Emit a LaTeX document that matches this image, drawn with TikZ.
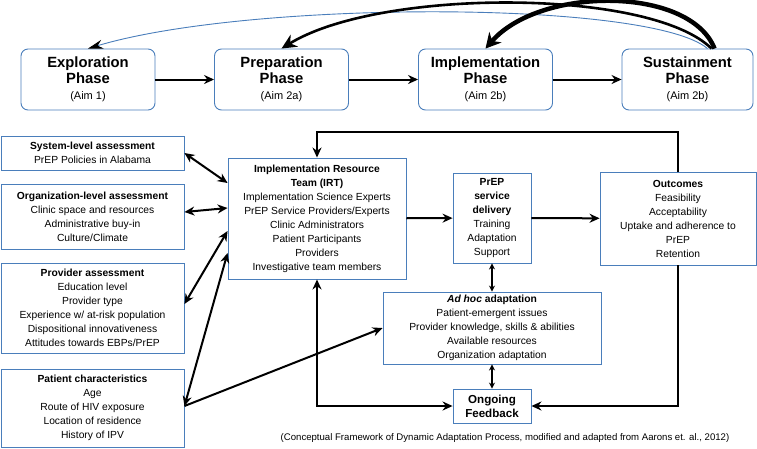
\documentclass[tikz,border=0pt]{standalone}
\usepackage{fontspec}
\setmainfont{Liberation Sans}
\usepackage{xcolor}
\definecolor{boxblue}{HTML}{4A7EBB}
\usepackage{tikz}
\usetikzlibrary{arrows.meta}

\begin{document}
\begin{tikzpicture}[x=1pt, y=-1pt,
            phase/.style={draw=boxblue, line width=0.9pt, rounded corners=7pt, align=center, inner sep=0pt,
                minimum width=134pt, minimum height=61pt, font=\fontsize{14.8}{16}\selectfont\bfseries},
            box/.style={draw=boxblue, line width=0.9pt, align=center, inner sep=0pt,
                font=\fontsize{10.3}{14}\selectfont},
            link/.style={line width=2pt, -{Stealth[length=10pt,width=9pt]}},
            dlink/.style={line width=2pt, {Stealth[length=10pt,width=9pt]}-{Stealth[length=10pt,width=9pt]}},
            slink/.style={line width=1.3pt, {Stealth[length=6pt,width=6pt]}-{Stealth[length=6pt,width=6pt]}}]
            \useasboundingbox (0,0) rectangle (757,448);

            \node (explo) at (88, 79.5) [phase] {Exploration\\Phase\\{\fontsize{11}{16}\selectfont\mdseries (Aim 1)}};
            \node (prep) at (281.5, 79.5) [phase] {Preparation\\Phase\\{\fontsize{11}{16}\selectfont\mdseries (Aim 2a)}};
            \node (impl) at (485.5, 79.5) [phase] {Implementation\\Phase\\{\fontsize{11}{16}\selectfont\mdseries (Aim 2b)}};
            \node (sust) at (687.5, 79.5) [phase, minimum width=131pt] {Sustainment\\Phase\\{\fontsize{11}{16}\selectfont\mdseries (Aim 2b)}};

            \draw[link] (explo) -- (prep);
            \draw[link] (prep) -- (impl);
            \draw[link] (impl) -- (sust);

            \draw[draw=boxblue, line width=0.9pt, -{Stealth[black,length=15pt,width=9pt]}]
                ([xshift=20pt]sust.north) .. controls (650, 0) and (250, 0) .. (explo.north);
            \draw[line width=2.6pt, -{Stealth[length=15pt,width=14pt]}]
                ([xshift=24pt]sust.north) .. controls (650, -12) and (380, -12) .. (prep.north);
            \draw[line width=4.5pt, -{Stealth[length=15pt,width=16pt]}]
                ([xshift=27pt]sust.north) .. controls (690, -14) and (540, -14) .. (impl.north);

            \node (sys) at (92.5, 153) [box, minimum width=183pt, minimum height=34pt]
                {\textbf{System-level assessment}\\PrEP Policies in Alabama};
            \node (org) at (92.5, 216.5) [box, minimum width=183pt, minimum height=65pt]
                {\textbf{Organization-level assessment}\\Clinic space and resources\\Administrative buy-in\\Culture/Climate};
            \node (prov) at (92.5, 308) [box, minimum width=183pt, minimum height=90pt]
                {\textbf{Provider assessment}\\Education level\\Provider type\\Experience w/ at-risk population\\Dispositional innovativeness\\Attitudes towards EBPs/PrEP};
            \node (pat) at (92.5, 408) [box, minimum width=183pt, minimum height=78pt]
                {\textbf{Patient characteristics}\\Age\\Route of HIV exposure\\Location of residence\\History of IPV};

            \node (irt) at (317, 218.5) [box, minimum width=178pt, minimum height=121pt]
                {\textbf{Implementation Resource}\\\textbf{Team (IRT)}\\Implementation Science Experts\\PrEP Service Providers/Experts\\Clinic Administrators\\Patient Participants\\Providers\\Investigative team members};
            \node (svc) at (492, 218) [box, minimum width=78pt, minimum height=90pt]
                {\textbf{PrEP}\\\textbf{service}\\\textbf{delivery}\\Training\\Adaptation\\Support};
            \node (out) at (678, 218.5) [box, minimum width=156pt, minimum height=93pt]
                {\textbf{Outcomes}\\Feasibility\\Acceptability\\Uptake and adherence to\\PrEP\\Retention};
            \node (adhoc) at (492, 328) [box, minimum width=218pt, minimum height=72pt]
                {\textbf{\textit{Ad hoc} adaptation}\\Patient-emergent issues\\Provider knowledge, skills \& abilities\\Available resources\\Organization adaptation};
            \node (fb) at (492, 406) [box, minimum width=78pt, minimum height=34pt, font=\fontsize{11.6}{14}\selectfont\bfseries]
                {Ongoing\\Feedback};

            \node (cap) at (505, 438) [font=\fontsize{9.6}{11}\selectfont] {(Conceptual Framework of Dynamic Adaptation Process, modified and adapted from Aarons et. al., 2012)};

            \coordinate (top) at (0, 132);
            \draw[link] (irt) -- (svc);
            \draw[link] (svc) -- (out);
            \draw[link] (out.north) -- (out.north |- top) -| (irt.north);
            \draw[link] (out.south) |- (fb.east);
            \draw[dlink] (irt.south) |- (fb.west);
            \draw[slink] (svc) -- (adhoc);
            \draw[slink] (adhoc) -- (fb);

            \draw[dlink] (sys.east) -- ([yshift=35.5pt]irt.west);
            \draw[dlink] ([yshift=4.5pt]org.east) -- ([yshift=10.5pt]irt.west);
            \draw[dlink] ([yshift=4pt]prov.east) -- ([yshift=-12.5pt]irt.west);
            \draw[dlink] ([yshift=2pt]pat.east) -- ([yshift=-34.5pt]irt.west);
            \draw[link] ([yshift=2pt]pat.east) -- (adhoc.west);
        \end{tikzpicture}
\end{document}
